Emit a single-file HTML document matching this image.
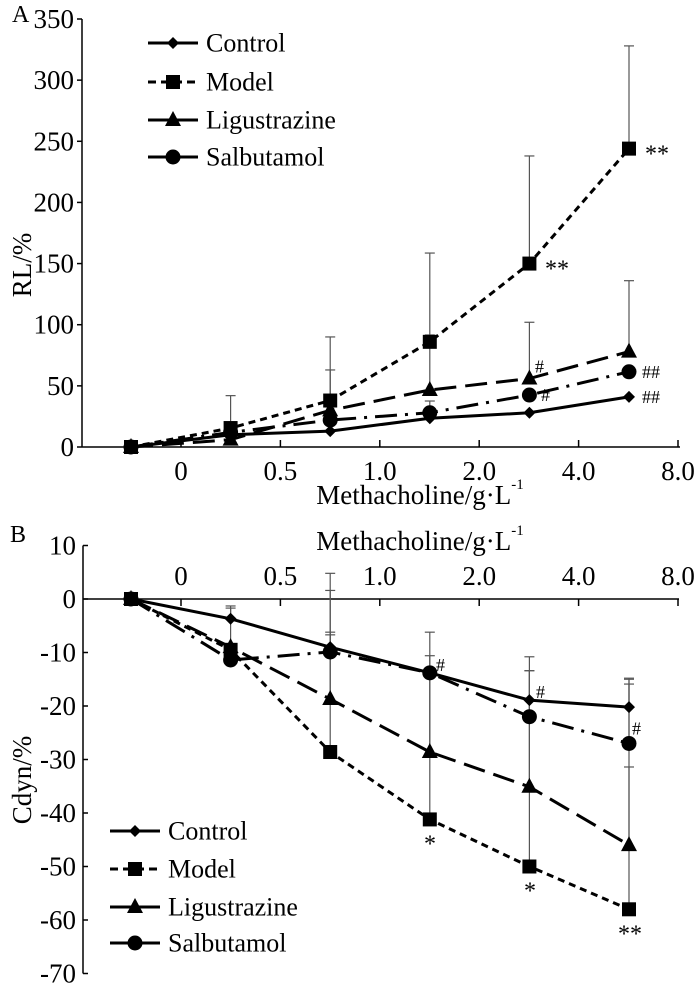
<!DOCTYPE html>
<html><head><meta charset="utf-8"><style>
html,body{margin:0;padding:0;background:#fff;}
svg{display:block;}
svg text{font-family:"Liberation Serif","Times New Roman",serif;}
</style></head><body>
<svg id="c" width="700" height="986" viewBox="0 0 700 986"></svg>
<script>
const xLabels=["0","0.5","1.0","2.0","4.0","8.0"];
const seriesNames=["Control","Model","Ligustrazine","Salbutamol"];
const aControl=[0,10,13,23.5,28,41];
const aModel=[0,15.5,38,86,150,244];
const aLigus=[0,6,30,46.6,56,78];
const aSalb=[0,12,22,28,42.5,61.5];
const aModelErr=[0,26.5,52,72.6,88,84];
const aLigusErr=[0,0,33,45,46,58];
const aSalbErr=[0,0,0,9.6,0,0];
const bControl=[0,-3.7,-9,-13.8,-18.9,-20.2];
const bModel=[0,-9.5,-28.6,-41.2,-50,-58];
const bLigus=[0,-9,-18.7,-28.6,-35.1,-46];
const bSalb=[0,-11.4,-9.9,-13.8,-22,-27];
const bModelErr=[0,0,33.4,35,39.2,43];
const bLigusErr=[0,0,20.3,18,21.7,14.6];
const bControlErr=[0,2.4,2.8,0,0,5.4];
const bSalbErr=[0,9.7,3.2,0,8.6,11.1];
const aTicks=[0,50,100,150,200,250,300,350];
const bTicks=[10,0,-10,-20,-30,-40,-50,-60,-70];

const svg=document.getElementById('c');
const NS='http://www.w3.org/2000/svg';
function el(t,a,p){const e=document.createElementNS(NS,t);for(const k in a)e.setAttribute(k,a[k]);(p||svg).appendChild(e);return e;}
function txt(s,x,y,sz,anchor,name,p){const t=el('text',{x:x,y:y,'font-size':sz,'font-family':'Liberation Serif, serif','text-anchor':anchor||'middle','dominant-baseline':'central'},p);t.textContent=s;return t;}
const px=i=>131+99.6*i;
const tx=i=>181+99.4*i;
const ya=v=>447-v*428/350;
const yb=v=>599-v*5.35;
const styles=[{d:'',m:'diamond'},{d:'7,5',m:'square'},{d:'22,9',m:'triangle'},{d:'22,8,3,8',m:'circle'}];
function marker(kind,x,y,g){
  let e;
  if(kind==='square')e=el('rect',{x:x-7,y:y-7,width:14,height:14,fill:'#000'},g);
  else if(kind==='circle')e=el('circle',{cx:x,cy:y,r:7.5,fill:'#000'},g);
  else if(kind==='triangle')e=el('polygon',{points:`${x},${y-9} ${x+8},${y+6} ${x-8},${y+6}`,fill:'#000'},g);
  else e=el('polygon',{points:`${x},${y-6} ${x+6},${y} ${x},${y+6} ${x-6},${y}`,fill:'#000'},g);
  
  
}
function errbar(x,v,e,yf,g){
  if(!e)return;
  const l=el('line',{x1:x,y1:yf(v),x2:x,y2:yf(v+e),stroke:'#555','stroke-width':1.2},g);
  
  
  el('line',{x1:x-5,y1:yf(v+e),x2:x+5,y2:yf(v+e),stroke:'#555','stroke-width':1.2},g);
}
function series(vals,si,yf,name){
  const g=el('g',{});
  
  
  el('polyline',{points:vals.map((v,i)=>px(i)+','+yf(v)).join(' '),fill:'none',stroke:'#000','stroke-width':3,'stroke-dasharray':styles[si].d},g);
  vals.forEach((v,i)=>marker(styles[si].m,px(i),yf(v),g));
}
function legend(x,ys,name){
  const g=el('g',{});
  
  
  seriesNames.forEach((n,i)=>{
    el('line',{x1:x,y1:ys[i],x2:x+50,y2:ys[i],stroke:'#000','stroke-width':3,'stroke-dasharray':i==1?'8,5':''},g);
    marker(styles[i].m,x+25,ys[i],g);
    txt(n,x+58,ys[i],26,'start','legend-entry-'+n.toLowerCase(),g);
  });
}
// Panel A
txt('A',12,15,24,'start','panel-a-label');
el('line',{x1:82,y1:ya(350),x2:82,y2:447,stroke:'#000','stroke-width':1.5});
el('line',{x1:82,y1:447,x2:680,y2:447,stroke:'#000','stroke-width':1.5});
aTicks.forEach(t=>{el('line',{x1:77,y1:ya(t),x2:82,y2:ya(t),stroke:'#000','stroke-width':1.5});txt(String(t),74,ya(t),27,'end','y-tick-label');});
xLabels.forEach((s,i)=>{el('line',{x1:tx(i),y1:440,x2:tx(i),y2:447,stroke:'#000','stroke-width':1.5});txt(s,tx(i),471,27,'middle','x-tick-label');});
let t=txt('Methacholine/g·L',420,495,27,'middle','x-axis-title-a');
const sup1=el('tspan',{'font-size':15,dy:-10},t);sup1.textContent='-1';
const ry=txt('RL/%',22,265,27,'middle','y-axis-title-a');ry.setAttribute('transform','rotate(-90 22 265)');
aModelErr.forEach((e,i)=>errbar(px(i),aModel[i],e,ya));
aLigusErr.forEach((e,i)=>errbar(px(i),aLigus[i],e,ya));
aSalbErr.forEach((e,i)=>errbar(px(i),aSalb[i],e,ya));
series(aControl,0,ya,'series-a-control');
series(aModel,1,ya,'series-a-model');
series(aLigus,2,ya,'series-a-ligustrazine');
series(aSalb,3,ya,'series-a-salbutamol');
legend(148,[43,82,120,157],'legend-a');
txt('**',645,ya(aModel[5])+6,24,'start','sig-a1');
txt('**',545,ya(aModel[4])+6,24,'start','sig-a2');
txt('#',535,ya(aLigus[4])-12,18,'start','sig-a3');
txt('#',541,ya(aSalb[4]),18,'start','sig-a4');
txt('##',642,ya(aSalb[5]),18,'start','sig-a5');
txt('##',642,ya(aControl[5]),18,'start','sig-a6');
// Panel B
txt('B',10,535,24,'start','panel-b-label');
el('line',{x1:83,y1:yb(10),x2:83,y2:yb(-70),stroke:'#000','stroke-width':1.5});
el('line',{x1:83,y1:599,x2:679,y2:599,stroke:'#000','stroke-width':1.5});
bTicks.forEach(v=>{el('line',{x1:83,y1:yb(v),x2:88,y2:yb(v),stroke:'#000','stroke-width':1.5});txt(String(v),76,yb(v),27,'end','y-tick-label');});
xLabels.forEach((s,i)=>{el('line',{x1:tx(i),y1:599,x2:tx(i),y2:606,stroke:'#000','stroke-width':1.5});txt(s,tx(i),576,27,'middle','x-tick-label');});
t=txt('Methacholine/g·L',420,541,27,'middle','x-axis-title-b');
const sup2=el('tspan',{'font-size':15,dy:-10},t);sup2.textContent='-1';
const ry2=txt('Cdyn/%',22,780,27,'middle','y-axis-title-b');ry2.setAttribute('transform','rotate(-90 22 780)');
bModelErr.forEach((e,i)=>errbar(px(i),bModel[i],e,yb));
bLigusErr.forEach((e,i)=>errbar(px(i),bLigus[i],e,yb));
bControlErr.forEach((e,i)=>errbar(px(i),bControl[i],e,yb));
bSalbErr.forEach((e,i)=>errbar(px(i),bSalb[i],e,yb));
series(bControl,0,yb,'series-b-control');
series(bModel,1,yb,'series-b-model');
series(bLigus,2,yb,'series-b-ligustrazine');
series(bSalb,3,yb,'series-b-salbutamol');
legend(110,[831,869,907,943],'legend-b');
txt('#',436,yb(bSalb[3])-8,18,'start','sig-b1');
txt('#',536,yb(bControl[4])-8,18,'start','sig-b2');
txt('#',632,yb(bSalb[5])-15,18,'start','sig-b3');
txt('*',430,yb(bModel[3])+25,24,'middle','sig-b4');
txt('*',530,yb(bModel[4])+25,24,'middle','sig-b5');
txt('**',630,yb(bModel[5])+25,24,'middle','sig-b6');
</script>
</body></html>
